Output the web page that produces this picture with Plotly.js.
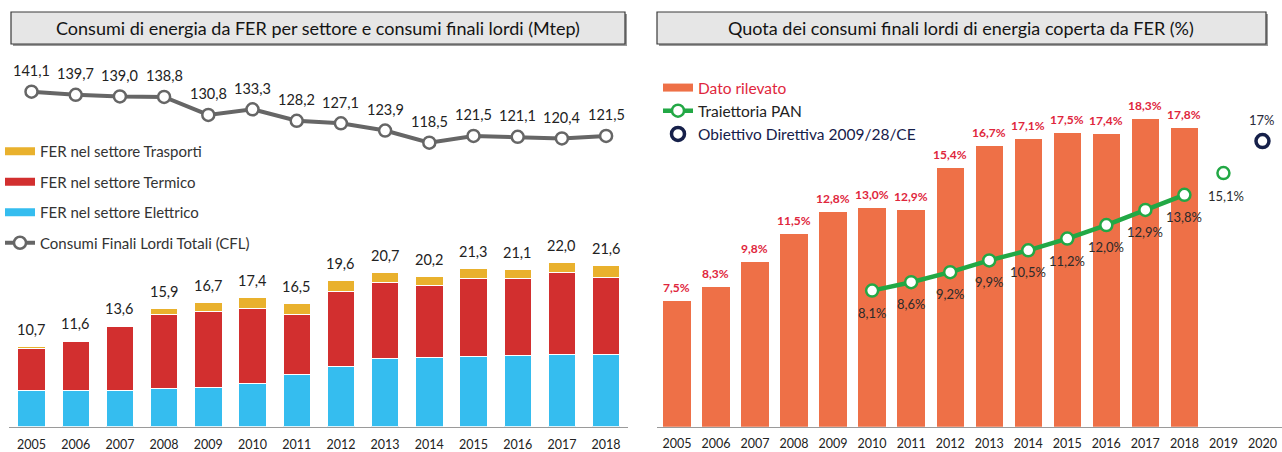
<!DOCTYPE html>
<html>
<head>
<meta charset="utf-8">
<script src="https://cdn.plot.ly/plotly-3.0.1.min.js"></script>
<style>html,body{margin:0;padding:0;background:#fff}#chart{width:1282px;height:452px}</style>
</head>
<body>
<div id="chart"></div>
<script>
// ---------- DATA ----------
const years = [2005, 2006, 2007, 2008, 2009, 2010, 2011, 2012, 2013, 2014, 2015, 2016, 2017, 2018];
const ferElettrico = [4.8, 4.8, 4.8, 5.1, 5.3, 5.8, 7.0, 8.1, 9.1, 9.3, 9.4, 9.5, 9.7, 9.7];
const ferTermico   = [5.7, 6.6, 8.6, 10.0, 10.1, 10.1, 8.0, 10.0, 10.2, 9.6, 10.5, 10.4, 11.0, 10.3];
const ferTrasporti = [0.2, 0.2, 0.2, 0.8, 1.3, 1.5, 1.5, 1.5, 1.4, 1.3, 1.4, 1.2, 1.3, 1.6];
const ferTotale    = [10.7, 11.6, 13.6, 15.9, 16.7, 17.4, 16.5, 19.6, 20.7, 20.2, 21.3, 21.1, 22.0, 21.6];
const cflTotale    = [141.1, 139.7, 139.0, 138.8, 130.8, 133.3, 128.2, 127.1, 123.9, 118.5, 121.5, 121.1, 120.4, 121.5];

const quotaYears     = [2005, 2006, 2007, 2008, 2009, 2010, 2011, 2012, 2013, 2014, 2015, 2016, 2017, 2018];
const quotaRilevata  = [7.5, 8.3, 9.8, 11.5, 12.8, 13.0, 12.9, 15.4, 16.7, 17.1, 17.5, 17.4, 18.3, 17.8];
const panYears       = [2010, 2011, 2012, 2013, 2014, 2015, 2016, 2017, 2018];
const panValues      = [8.1, 8.6, 9.2, 9.9, 10.5, 11.2, 12.0, 12.9, 13.8];
const panExtraYears  = [2019];
const panExtraValues = [15.1];
const targetYears    = [2020];
const targetValues   = [17];
const rightTickYears = [2005, 2006, 2007, 2008, 2009, 2010, 2011, 2012, 2013, 2014, 2015, 2016, 2017, 2018, 2019, 2020];

const leftTitle  = 'Consumi di energia da FER per settore e consumi finali lordi (Mtep)';
const rightTitle = 'Quota dei consumi finali lordi di energia coperta da FER (%)';

// ---------- STYLE ----------
const FONT = 'Lato, "Open Sans", "DejaVu Sans", sans-serif';
const C_BLUE = '#35bdef', C_RED = '#d22f2f', C_YEL = '#e9b12d', C_GRAY = '#666666';
const C_ORANGE = '#ee7047', C_GREEN = '#22a845', C_NAVY = '#16204a', C_LBLRED = '#e0263c';
const W = 1282, H = 452;
const px = v => v / W;
const py = v => (H - v) / H;
const fmt = (v, d) => v.toFixed(d).replace('.', ',');

const nul = [null];
const traces = [
  // left stacked bars
  {type: 'bar', name: 'FER nel settore Elettrico', x: years, y: ferElettrico, xaxis: 'x', yaxis: 'y', width: 0.62,
   marker: {color: C_BLUE, line: {color: '#ffffff', width: 1}}, showlegend: false, hoverinfo: 'skip'},
  {type: 'bar', name: 'FER nel settore Termico', x: years, y: ferTermico, xaxis: 'x', yaxis: 'y', width: 0.62,
   marker: {color: C_RED, line: {color: '#ffffff', width: 1}}, showlegend: false, hoverinfo: 'skip'},
  {type: 'bar', name: 'FER nel settore Trasporti', x: years, y: ferTrasporti, xaxis: 'x', yaxis: 'y', width: 0.62,
   marker: {color: C_YEL, line: {color: '#ffffff', width: 1}}, showlegend: false, hoverinfo: 'skip'},
  // legend swatches (left)
  {type: 'scatter', mode: 'lines', name: 'FER nel settore Trasporti', x: nul, y: nul, xaxis: 'x', yaxis: 'y',
   line: {color: C_YEL, width: 8}, legend: 'legend', legendgroup: 'a1'},
  {type: 'scatter', mode: 'lines', name: 'FER nel settore Termico', x: nul, y: nul, xaxis: 'x', yaxis: 'y',
   line: {color: C_RED, width: 8}, legend: 'legend', legendgroup: 'a2'},
  {type: 'scatter', mode: 'lines', name: 'FER nel settore Elettrico', x: nul, y: nul, xaxis: 'x', yaxis: 'y',
   line: {color: C_BLUE, width: 8}, legend: 'legend', legendgroup: 'a3'},
  // CFL line
  {type: 'scatter', mode: 'lines+markers', name: 'Consumi Finali Lordi Totali (CFL)', x: years, y: cflTotale,
   xaxis: 'x', yaxis: 'y2', cliponaxis: false, legend: 'legend', legendgroup: 'a4',
   line: {color: C_GRAY, width: 4}, marker: {size: 12, color: '#ffffff', line: {color: C_GRAY, width: 2.5}}, hoverinfo: 'skip'},
  // right bars
  {type: 'bar', name: 'Dato rilevato', x: quotaYears, y: quotaRilevata, xaxis: 'x3', yaxis: 'y3', width: 0.7,
   marker: {color: C_ORANGE}, showlegend: false, hoverinfo: 'skip'},
  {type: 'scatter', mode: 'lines', name: '<span style="color:' + C_LBLRED + '">Dato rilevato</span>', x: nul, y: nul,
   xaxis: 'x3', yaxis: 'y3', line: {color: C_ORANGE, width: 8}, legend: 'legend2', legendgroup: 'b1'},
  {type: 'scatter', mode: 'lines+markers', name: 'Traiettoria PAN', x: panYears, y: panValues,
   xaxis: 'x3', yaxis: 'y3', cliponaxis: false, legend: 'legend2', legendgroup: 'b2',
   line: {color: C_GREEN, width: 4.5}, marker: {size: 12, color: '#ffffff', line: {color: C_GREEN, width: 2.5}}, hoverinfo: 'skip'},
  {type: 'scatter', mode: 'markers', name: 'Traiettoria PAN 2019', x: panExtraYears, y: panExtraValues,
   xaxis: 'x3', yaxis: 'y3', cliponaxis: false, showlegend: false,
   marker: {size: 12, color: '#ffffff', line: {color: C_GREEN, width: 2.5}}, hoverinfo: 'skip'},
  {type: 'scatter', mode: 'markers', name: '<span style="color:' + C_NAVY + '">Obiettivo Direttiva 2009/28/CE</span>',
   x: targetYears, y: targetValues, xaxis: 'x3', yaxis: 'y3', cliponaxis: false, legend: 'legend2', legendgroup: 'b3',
   marker: {size: 13, color: '#ffffff', line: {color: C_NAVY, width: 3.5}}, hoverinfo: 'skip'}
];

// ---------- ANNOTATIONS ----------
const ann = [];
years.forEach((yr, i) => {
  ann.push({xref: 'x', yref: 'y', x: yr, y: ferTotale[i], text: fmt(ferTotale[i], 1), showarrow: false,
            yanchor: 'middle', yshift: 17, font: {family: FONT, size: 14.5, color: '#222'}});
  ann.push({xref: 'x', yref: 'y2', x: yr, y: cflTotale[i], text: fmt(cflTotale[i], 1), showarrow: false,
            yanchor: 'middle', yshift: 21, font: {family: FONT, size: 14.5, color: '#222'}});
});
quotaYears.forEach((yr, i) => {
  ann.push({xref: 'x3', yref: 'y3', x: yr, y: quotaRilevata[i], text: '<b>' + fmt(quotaRilevata[i], 1) + '%</b>', showarrow: false,
            yanchor: 'middle', yshift: 13.5, font: {family: FONT, size: 12, color: C_LBLRED}});
});
panYears.forEach((yr, i) => {
  ann.push({xref: 'x3', yref: 'y3', x: yr, y: panValues[i], text: fmt(panValues[i], 1) + '%', showarrow: false,
            yanchor: 'middle', yshift: -22, font: {family: FONT, size: 13, color: '#2a2a2a'}});
});
panExtraYears.forEach((yr, i) => {
  ann.push({xref: 'x3', yref: 'y3', x: yr, y: panExtraValues[i], text: fmt(panExtraValues[i], 1) + '%', showarrow: false,
            yanchor: 'middle', yshift: -23, xshift: 3, font: {family: FONT, size: 13, color: '#2a2a2a'}});
});
targetYears.forEach((yr, i) => {
  ann.push({xref: 'x3', yref: 'y3', x: yr, y: targetValues[i], text: fmt(targetValues[i], 0) + '%', showarrow: false,
            yanchor: 'middle', yshift: 21, font: {family: FONT, size: 13, color: '#2a2a3a'}});
});
ann.push({xref: 'paper', yref: 'paper', x: px(318), y: py(28), text: leftTitle, showarrow: false,
          xanchor: 'center', yanchor: 'middle', font: {family: FONT, size: 18, color: '#141414'}});
ann.push({xref: 'paper', yref: 'paper', x: px(961), y: py(28), text: rightTitle, showarrow: false,
          xanchor: 'center', yanchor: 'middle', font: {family: FONT, size: 18, color: '#141414'}});

const boxShapes = [];
[[11, 625], [657, 1266]].forEach(([a, b]) => {
  boxShapes.push({type: 'rect', xref: 'paper', yref: 'paper', x0: px(a + 2), x1: px(b + 2), y0: py(46), y1: py(14),
                  fillcolor: '#9a9a9a', line: {width: 0}, layer: 'below'});
  boxShapes.push({type: 'rect', xref: 'paper', yref: 'paper', x0: px(a), x1: px(b), y0: py(44), y1: py(12),
                  fillcolor: '#e6e6e6', line: {color: '#3a3a3a', width: 1.2}, layer: 'below'});
});

const tickFont = {family: FONT, size: 12.5, color: '#222'};
const layout = {
  width: W, height: H,
  margin: {l: 0, r: 0, t: 0, b: 0},
  paper_bgcolor: '#ffffff', plot_bgcolor: 'rgba(0,0,0,0)',
  separators: ',.',
  barmode: 'stack',
  showlegend: true,
  font: {family: FONT},
  xaxis: {domain: [px(9.4), px(628.2)], range: [2004.5, 2018.5], anchor: 'y',
          tickvals: years, ticktext: years.map(String), tickfont: tickFont,
          showline: true, linecolor: '#9a9a9a', linewidth: 1, showgrid: false, zeroline: false,
          ticks: 'outside', ticklen: 6, tickcolor: 'rgba(0,0,0,0)', fixedrange: true},
  yaxis: {domain: [py(426.7), py(247.9)], range: [0, 24], anchor: 'x', visible: false, fixedrange: true},
  yaxis2: {domain: [py(161.9), py(71.6)], range: [110, 150], anchor: 'x', visible: false, fixedrange: true},
  xaxis3: {domain: [px(657.4), 1], range: [2004.5, 2020.5], anchor: 'y3',
           tickvals: rightTickYears, ticktext: rightTickYears.map(String), tickfont: tickFont,
           showline: true, linecolor: '#9a9a9a', linewidth: 1, showgrid: false, zeroline: false,
           ticks: 'outside', ticklen: 5, tickcolor: 'rgba(0,0,0,0)', fixedrange: true},
  yaxis3: {domain: [py(426.7), py(90.7)], range: [0, 20], anchor: 'x3', visible: false, fixedrange: true},
  legend: {x: 0, y: py(135), xanchor: 'left', yanchor: 'top', bgcolor: 'rgba(0,0,0,0)',
           font: {family: FONT, size: 15, color: '#333'}, tracegroupgap: 8, traceorder: 'grouped'},
  legend2: {x: px(658), y: py(71), xanchor: 'left', yanchor: 'top', bgcolor: 'rgba(0,0,0,0)',
            font: {family: FONT, size: 15.5, color: '#222'}, tracegroupgap: 2, traceorder: 'normal'},
  annotations: ann,
  shapes: boxShapes
};

Plotly.newPlot('chart', traces, layout, {displayModeBar: false, staticPlot: true});
</script>
</body>
</html>
